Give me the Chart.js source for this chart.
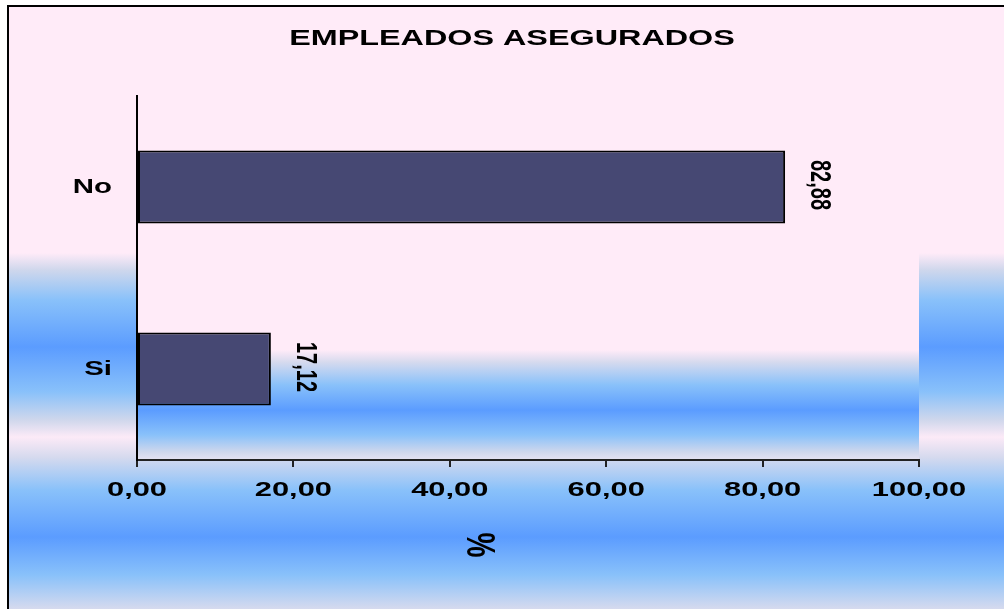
<!DOCTYPE html>
<html>
<head>
<meta charset="utf-8">
<script src="https://cdn.jsdelivr.net/npm/chart.js@4.4.0/dist/chart.umd.min.js"></script>
<style>
  html, body { margin: 0; padding: 0; background: #ffffff; }
  #wrap { width: 1004px; height: 609px; position: relative; overflow: hidden; }
  canvas { display: block; }
</style>
</head>
<body>
<div id="wrap"><canvas id="c" width="1004" height="609"></canvas></div>
<script>
// ---- data ----
const chartTitle = 'EMPLEADOS ASEGURADOS';
const categories = ['No', 'Si'];
const percentValues = [82.88, 17.12];
const xTickValues = [0, 20, 40, 60, 80, 100];
const xTickLabels = ['0,00', '20,00', '40,00', '60,00', '80,00', '100,00'];
const xAxisTitle = '%';

// ---- style ----
const STRETCH = 1.47;           // the reference text is stretched horizontally
const PINK = '#FFEBF8';
const GRAY = '#CFD7EC';
const LIGHT = '#89C1FA';
const BLUE = '#5B9CFF';
const BAR = '#464873';
const FONT = '"Liberation Sans", Arial, sans-serif';

function fmt(v) { return v.toFixed(2).replace('.', ','); }

function installStretch(ctx) {
  if (ctx.__origFillText) return;
  const orig = ctx.fillText;
  ctx.__origFillText = orig;
  ctx.fillText = function (t, x, y, maxW) {
    this.save();
    this.translate(x, y);
    this.scale(STRETCH, 1);
    if (maxW !== undefined && maxW !== null) orig.call(this, t, 0, 0, maxW / STRETCH);
    else orig.call(this, t, 0, 0);
    this.restore();
  };
}

function addStops(g, y0, y1, stops) {
  stops.forEach(([y, c]) => g.addColorStop(Math.min(1, Math.max(0, (y - y0) / (y1 - y0))), c));
}

const backdrop = {
  id: 'backdrop',
  beforeDraw(chart) {
    const ctx = chart.ctx;
    const W = chart.width, H = chart.height;
    const ca = chart.chartArea;
    installStretch(ctx);
    ctx.save();
    ctx.fillStyle = '#ffffff';
    ctx.fillRect(0, 0, W, H);
    const g = ctx.createLinearGradient(0, 6, 0, H);
    addStops(g, 6, H, [
      [6, PINK], [253, PINK], [270, GRAY], [300, LIGHT], [347, BLUE], [392, LIGHT],
      [420, GRAY], [437, '#FCEAF7'], [457, '#D6DAEE'], [490, LIGHT], [537, BLUE],
      [575, LIGHT], [H, '#D6DAEE']
    ]);
    ctx.fillStyle = g;
    ctx.fillRect(8, 6, W - 8, H - 6);
    const t = ca.top, b = ca.bottom, h = b - t;
    const g2 = ctx.createLinearGradient(0, t, 0, b);
    addStops(g2, t, b, [
      [t, PINK], [t + h * 0.698, PINK], [t + h * 0.731, '#D6DAEE'], [t + h * 0.794, LIGHT],
      [t + h * 0.863, BLUE], [t + h * 0.931, LIGHT], [t + h * 0.978, GRAY], [b, '#E6E2F2']
    ]);
    ctx.fillStyle = g2;
    ctx.fillRect(ca.left, t, ca.right - ca.left, h);
    // frame of the chart box
    ctx.fillStyle = '#000000';
    ctx.fillRect(7, 5, 2, H - 5);
    ctx.fillRect(7, 5, W - 7, 2);
    ctx.restore();
  }
};

const valueLabels = {
  id: 'valueLabels',
  afterDatasetsDraw(chart) {
    const ctx = chart.ctx;
    const orig = ctx.__origFillText || ctx.fillText;
    const meta = chart.getDatasetMeta(0);
    ctx.save();
    ctx.fillStyle = '#000000';
    ctx.font = 'bold 20px ' + FONT;
    ctx.textAlign = 'center';
    ctx.textBaseline = 'middle';
    meta.data.forEach((el, i) => {
      ctx.save();
      ctx.translate(el.x + 34, el.y - 2);
      ctx.rotate(Math.PI / 2);
      ctx.scale(1, 1.5);
      orig.call(ctx, fmt(percentValues[i]), 0, 0);
      ctx.restore();
    });
    // x axis title "%"
    const ca = chart.chartArea;
    ctx.font = 'bold 28px ' + FONT;
    ctx.save();
    ctx.translate(ca.left + (ca.right - ca.left) * 0.437, 545);
    ctx.rotate(Math.PI / 2);
    ctx.scale(1, STRETCH);
    orig.call(ctx, xAxisTitle, 0, 0);
    ctx.restore();
    ctx.restore();
  }
};

new Chart(document.getElementById('c'), {
  type: 'bar',
  data: {
    labels: categories,
    datasets: [{
      data: percentValues,
      backgroundColor: BAR,
      borderColor: '#000000',
      borderWidth: 2,
      borderSkipped: false,
      barPercentage: 0.4,
      categoryPercentage: 1.0
    }]
  },
  options: {
    indexAxis: 'y',
    responsive: false,
    animation: false,
    devicePixelRatio: 1,
    layout: { padding: { left: 20, right: 0, top: 0, bottom: 0 } },
    plugins: {
      legend: { display: false },
      tooltip: { enabled: false },
      title: {
        display: true,
        text: chartTitle,
        color: '#000000',
        font: { family: FONT, size: 22, weight: 'bold', lineHeight: 1.2 },
        padding: { top: 26, bottom: 43.6 }
      }
    },
    scales: {
      x: {
        type: 'linear',
        min: 0,
        max: 100,
        position: 'bottom',
        afterBuildTicks(s) { s.ticks = xTickValues.map(v => ({ value: v })); },
        afterFit(s) { s.height = 149; },
        grid: { display: true, drawOnChartArea: false, drawTicks: true, tickLength: 7, color: '#222222', lineWidth: 2 },
        border: { display: true, color: '#222222', width: 2 },
        ticks: {
          color: '#000000',
          font: { family: FONT, size: 21, weight: 'bold' },
          padding: 11,
          maxRotation: 0,
          autoSkip: false,
          callback(v) { const i = xTickValues.indexOf(v); return i >= 0 ? xTickLabels[i] : ''; }
        }
      },
      y: {
        type: 'category',
        position: 'left',
        afterFit(s) { s.width = 117; },
        grid: { display: false, drawTicks: false, tickLength: 0 },
        border: { display: true, color: '#000000', width: 2 },
        ticks: {
          color: '#000000',
          font: { family: FONT, size: 20, weight: 'bold' },
          padding: 25
        }
      },
      yR: {
        type: 'category',
        labels: categories,
        position: 'right',
        display: true,
        afterFit(s) { s.width = 85; },
        grid: { display: false, drawTicks: false },
        border: { display: false },
        ticks: { display: false }
      }
    }
  },
  plugins: [backdrop, valueLabels]
});
</script>
</body>
</html>
